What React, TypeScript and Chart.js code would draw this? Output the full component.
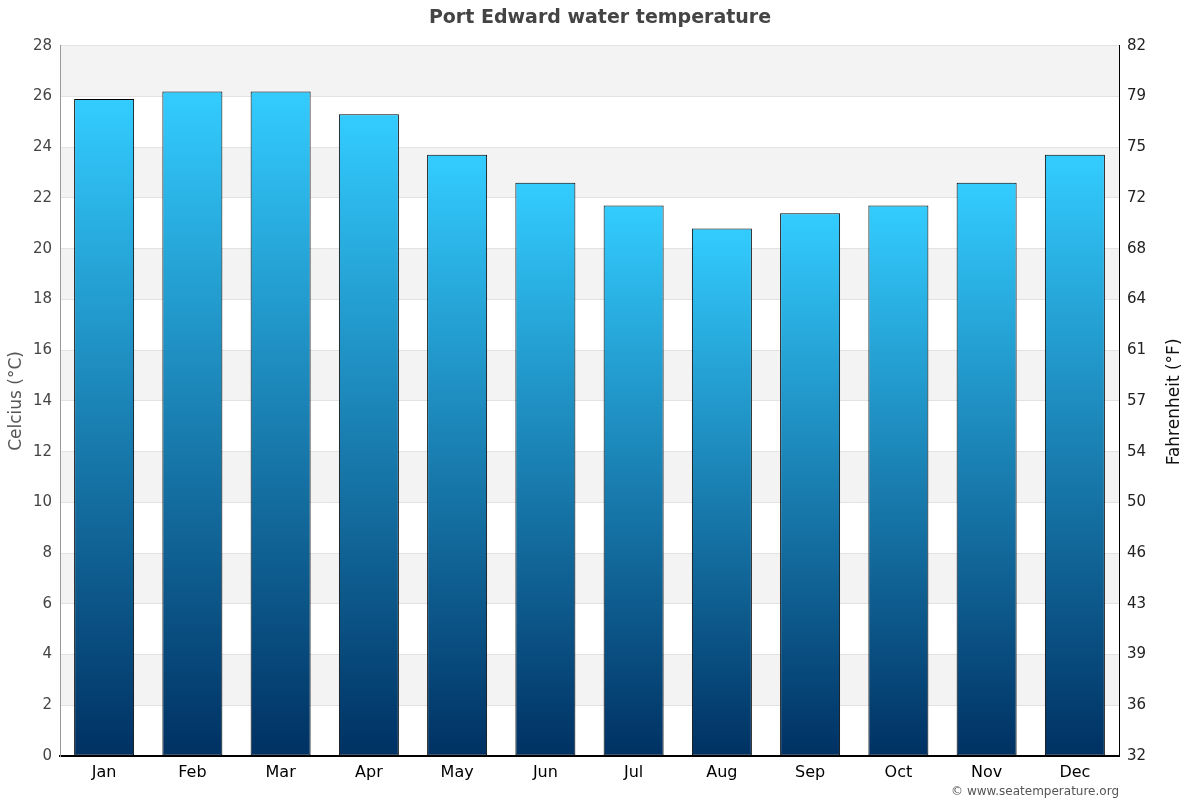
import React, { useEffect, useRef } from "react";
import { Chart, registerables } from "chart.js";

Chart.register(...registerables);

const months = ["Jan", "Feb", "Mar", "Apr", "May", "Jun", "Jul", "Aug", "Sep", "Oct", "Nov", "Dec"];
const waterTempC = [25.9, 26.2, 26.2, 25.3, 23.7, 22.6, 21.7, 20.8, 21.4, 21.7, 22.6, 23.7];
const yMin = 0;
const yMax = 28;
const yStep = 2;

const FONT = "'DejaVu Sans', Verdana, sans-serif";

const bandsPlugin = {
  id: "bands",
  beforeDraw(chart: any) {
    const { ctx, chartArea } = chart;
    const y = chart.scales.y;
    ctx.save();
    ctx.fillStyle = "#f3f3f3";
    for (let v = yMin + yStep; v < yMax; v += yStep * 2) {
      const top = y.getPixelForValue(v + yStep);
      const bot = y.getPixelForValue(v);
      ctx.fillRect(chartArea.left, top, chartArea.right - chartArea.left, bot - top);
    }
    ctx.restore();
  },
};

const textPlugin = {
  id: "extraText",
  afterDraw(chart: any) {
    const { ctx, chartArea } = chart;
    ctx.save();
    ctx.font = `12px ${FONT}`;
    ctx.fillStyle = "#555";
    ctx.textAlign = "right";
    ctx.textBaseline = "middle";
    ctx.fillText("© www.seatemperature.org", chartArea.right, 792);
    ctx.translate(1175, (chartArea.top + chartArea.bottom) / 2 + 1);
    ctx.rotate(-Math.PI / 2);
    ctx.font = `17px ${FONT}`;
    ctx.fillStyle = "#111";
    ctx.textAlign = "center";
    ctx.fillText("Fahrenheit (°F)", 0, 0);
    ctx.restore();
  },
};

export default function App() {
  const ref = useRef<HTMLCanvasElement>(null);
  useEffect(() => {
    document.body.style.margin = "0";
    const canvas = ref.current!;
    const chart = new Chart(canvas, {
      type: "bar",
      data: {
        labels: months,
        datasets: [
          {
            data: waterTempC,
            backgroundColor: (c: any) => {
              const ch = c.chart;
              const ys = ch.scales?.y;
              if (!ys || !ch.chartArea) return "#1a8ccc";
              const v = waterTempC[c.dataIndex] ?? 0;
              const top = ys.getPixelForValue(v);
              const bot = ys.getPixelForValue(0);
              const g = ch.ctx.createLinearGradient(0, top, 0, bot);
              g.addColorStop(0, "#33ccff");
              g.addColorStop(1, "#003163");
              return g;
            },
            borderColor: "#000",
            borderWidth: 1,
            borderSkipped: false,
            barPercentage: 0.68,
            categoryPercentage: 1,
          },
        ],
      },
      options: {
        animation: false,
        responsive: false,
        layout: { padding: 0 },
        plugins: {
          legend: { display: false },
          tooltip: { enabled: false },
          title: {
            display: true,
            text: "Port Edward water temperature",
            color: "#444",
            font: { family: FONT, size: 19, weight: "bold" },
            padding: { top: 7, bottom: 16 },
          },
        },
        scales: {
          x: {
            grid: { display: false, drawTicks: false },
            border: { color: "#000", width: 2 },
            ticks: { color: "#000", font: { family: FONT, size: 16 }, padding: 7 },
            afterFit: (s: any) => { s.height = 44; },
          },
          y: {
            min: yMin,
            max: yMax,
            position: "left",
            ticks: { stepSize: yStep, color: "#444", font: { family: FONT, size: 15 }, padding: 8 },
            grid: { color: "#e2e2e2", drawTicks: false },
            border: { color: "#999", width: 1 },
            title: {
              display: true,
              text: "Celcius (°C)",
              color: "#555",
              font: { family: FONT, size: 17 },
              padding: { top: 6, bottom: 0 },
            },
            afterFit: (s: any) => { s.width = 60; },
          },
          y2: {
            min: yMin,
            max: yMax,
            position: "right",
            ticks: {
              stepSize: yStep,
              color: "#222",
              font: { family: FONT, size: 15 },
              padding: 8,
              callback: (v: any) => String(Math.round((Number(v) * 9) / 5 + 32)),
            },
            grid: { display: false, drawTicks: false },
            border: { color: "#000", width: 1 },
            afterFit: (s: any) => { s.width = 81; },
          },
        },
      },
      plugins: [bandsPlugin, textPlugin],
    } as any);
    return () => chart.destroy();
  }, []);
  return <canvas ref={ref} width={1200} height={800} style={{ display: "block", width: 1200, height: 800 }} />;
}
